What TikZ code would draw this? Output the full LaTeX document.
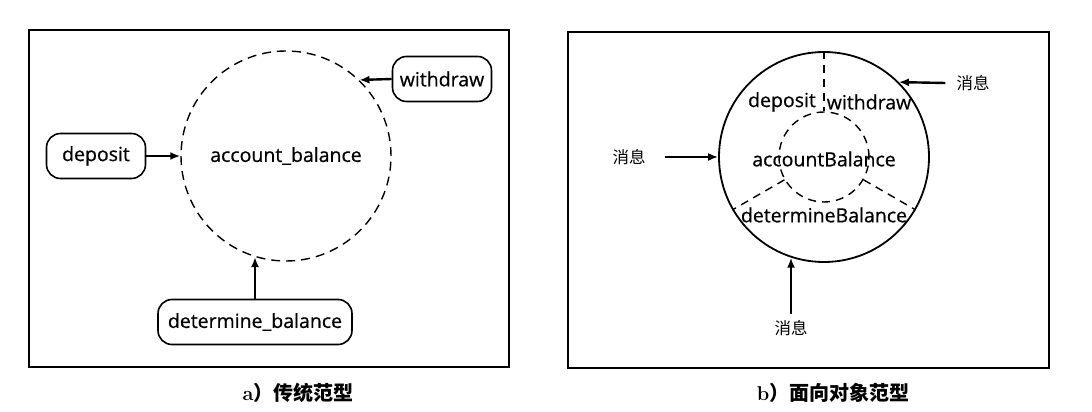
\documentclass[tikz,border=0pt]{standalone}
\usepackage{fontspec}
\setsansfont{Open Sans}
\newfontfamily\lblfont{Open Sans}[FakeBold=0.6]
\newfontfamily\cjk{Noto Sans CJK SC}
\usetikzlibrary{arrows.meta,positioning}

\begin{document}
\begin{tikzpicture}[x=1pt,y=1pt,
    lbl/.style={font=\lblfont\fontsize{19.5}{22}\selectfont,inner sep=1pt},
    fn/.style={lbl,draw,line width=1.6pt,rounded corners=14pt,minimum height=45pt,minimum width=99pt,inner xsep=6pt},
    msg/.style={font=\cjk\fontsize{16.5}{18}\selectfont,inner sep=1pt},
    arr/.style={line width=2.4pt,-{Latex[length=10pt,width=8pt]}},
    frame/.style={line width=1.5pt},
    dsh/.style={line width=1.4pt,dash pattern=on 9pt off 6pt},
    caption/.style={font=\bfseries\fontsize{20}{22}\selectfont}]
  \useasboundingbox (0,0) rectangle (1092,412);

  % a) traditional paradigm
  \draw[frame] (29,45) rectangle (509,382);
  \node[lbl,circle,draw,dsh,minimum size=210pt,inner sep=0pt] (acct) at (286,256) {account\_balance};
  \node[fn] (deposit) at (96,256) {deposit};
  \node[fn] (withdraw) at (442,333) {withdraw};
  \node[fn,minimum width=194pt] (detbal) at (255,90) {determine\_balance};
  \draw[arr] (deposit.east) -- (acct.west);
  \draw[arr] (withdraw.west) -- (acct.46.5);
  \draw[arr] (detbal.north) -- (detbal.north |- acct.-107);
  \node[caption] (capa) at (298,19) {a{\cjk ）传统范型}};

  % b) object-oriented paradigm
  \draw[frame] (568,44) rectangle (1049,380);
  \node[circle,draw,line width=1.8pt,minimum size=210pt,inner sep=0pt] (obj) at (824,255) {};
  \node[circle,draw,dsh,dash pattern=on 8pt off 6pt,minimum size=90pt,inner sep=0pt] (core) at (824,255) {};
  \draw[dsh,dash pattern=on 8pt off 6pt] (obj.90) -- (core.90);
  \draw[dsh,dash pattern=on 8pt off 6pt] (core.210) -- (obj.210);
  \draw[dsh,dash pattern=on 8pt off 6pt] (core.330) -- (obj.330);
  \node[lbl] (odep) at (782,310) {deposit};
  \node[lbl] (owd) at (869,310) {withdraw};
  \node[lbl] (obal) at (824,253) {accountBalance};
  \node[lbl] (odet) at (824,197) {determineBalance};
  \node[msg] (mleft) at (629,255) {消息};
  \node[msg] (mright) at (973,329) {消息};
  \node[msg] (mbot) at (791,84) {消息};
  \draw[arr] ([xshift=18pt]mleft.east) -- (obj.west);
  \draw[arr] ([xshift=-10pt]mright.west) -- (obj.45);
  \draw[arr] ([yshift=5pt]mbot.north) -- (mbot.north |- obj.-108);
  \node[caption] (capb) at (833,19) {b{\cjk ）面向对象范型}};
\end{tikzpicture}
\end{document}
